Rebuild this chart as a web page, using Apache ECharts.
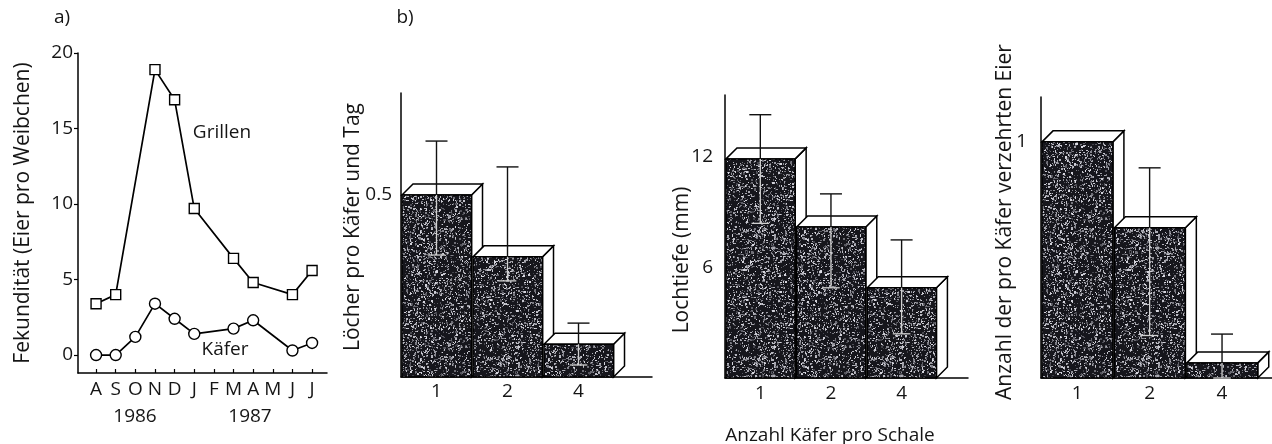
<!DOCTYPE html>
<html>
<head>
<meta charset="utf-8">
<script src="https://cdn.jsdelivr.net/npm/echarts@6/dist/echarts.min.js"></script>
<style>
html,body{margin:0;padding:0;background:#fff;}
#chart{width:1272px;height:444px;}
</style>
</head>
<body>
<div id="chart"></div>
<script>
// ---------- data ----------
const months = ['A','S','O','N','D','J','F','M','A','M','J','J'];
const grillen = [3.4, 4.0, null, 18.9, 16.9, 9.7, null, 6.4, 4.8, null, 4.0, 5.6];
const kaefer  = [0, 0, 1.2, 3.4, 2.4, 1.4, null, 1.75, 2.3, null, 0.3, 0.8];
const yTicksA = [0, 5, 10, 15, 20];

const beetleCats = ['1', '2', '4'];
// b1: Löcher pro Käfer und Tag
const holes    = [0.50, 0.33, 0.09];
const holesLo  = [0.335, 0.264, 0.033];
const holesHi  = [0.648, 0.577, 0.148];
const holesTicks = [0.5];
// b2: Lochtiefe (mm)
const depth    = [11.9, 8.2, 4.9];
const depthLo  = [8.4, 4.9, 2.4];
const depthHi  = [14.3, 10.0, 7.5];
const depthTicks = [6, 12];
// b3: Anzahl der pro Käfer verzehrten Eier
const eggs     = [1.0, 0.636, 0.064];
const eggsLo   = [null, 0.18, 0.0];
const eggsHi   = [null, 0.89, 0.186];
const eggsTicks = [1];

// ---------- texture (style only) ----------
function makeTexture() {
  const N = 128;
  const c = document.createElement('canvas');
  c.width = N; c.height = N;
  const ctx = c.getContext('2d');
  ctx.fillStyle = '#16161c';
  ctx.fillRect(0, 0, N, N);
  let s = 12345;
  const rnd = () => { s = (s * 1103515245 + 12345) & 0x7fffffff; return s / 0x7fffffff; };
  for (let i = 0; i < 3200; i++) {
    const x = Math.floor(rnd() * N), y = Math.floor(rnd() * N);
    const g = Math.floor(60 + rnd() * 160);
    const w = rnd() < 0.3 ? 2 : 1, h = rnd() < 0.3 ? 2 : 1;
    ctx.fillStyle = 'rgb(' + g + ',' + g + ',' + (g + 8) + ')';
    ctx.fillRect(x, y, w, h);
  }
  return c;
}
const texture = makeTexture();
const FONT = '"Open Sans", "Noto Sans", sans-serif';
const INK = '#151515';
const FS = 19;

function series3D(i, vals) {
  return {
    type: 'custom', xAxisIndex: i, yAxisIndex: i, clip: false, z: 2,
    data: vals.map((v, k) => [k + 0.5, v]),
    renderItem: function (params, api) {
      const x = api.value(0), v = api.value(1);
      const pTL = api.coord([x - 0.5, v]);
      const pBR = api.coord([x + 0.5, 0]);
      const x0 = pTL[0] + 1, x1 = pBR[0] - 0.5, yT = pTL[1], yB = pBR[1];
      const d = 11;
      const ls = { stroke: '#000', lineWidth: 1.5, fill: '#fff' };
      return {
        type: 'group', children: [
          { type: 'polygon', shape: { points: [[x1, yT], [x1 + d, yT - d], [x1 + d, yB - d], [x1, yB]] }, style: ls },
          { type: 'polygon', shape: { points: [[x0, yT], [x0 + d, yT - d], [x1 + d, yT - d], [x1, yT]] }, style: ls },
          { type: 'rect', shape: { x: x0, y: yT, width: x1 - x0, height: yB - yT },
            style: { fill: { image: texture, repeat: 'repeat' }, stroke: '#000', lineWidth: 1.5 } }
        ]
      };
    }
  };
}

function seriesErr(i, vals, lo, hi) {
  return {
    type: 'custom', xAxisIndex: i, yAxisIndex: i, clip: false, z: 5,
    data: vals.map((v, k) => [k + 0.5, v, lo[k] == null ? NaN : lo[k], hi[k] == null ? NaN : hi[k]]),
    renderItem: function (params, api) {
      const x = api.value(0), v = api.value(1), l = api.value(2), h = api.value(3);
      if (isNaN(l) || isNaN(h)) return null;
      const px = api.coord([x, v])[0];
      const yBar = api.coord([x, v])[1];
      const yH = api.coord([x, h])[1];
      const yL = api.coord([x, l])[1];
      const cw = 11;
      const dark = { stroke: '#111', lineWidth: 1.4 };
      const light = { stroke: '#d0d0d0', lineWidth: 1.3 };
      const ch = [];
      const upEnd = Math.min(yBar, yL);
      if (yH < upEnd) ch.push({ type: 'line', shape: { x1: px, y1: yH, x2: px, y2: upEnd }, style: dark });
      ch.push({ type: 'line', shape: { x1: px - cw, y1: yH, x2: px + cw, y2: yH }, style: yH <= yBar ? dark : light });
      const inStart = Math.max(yBar, yH);
      if (yL > inStart) ch.push({ type: 'line', shape: { x1: px, y1: inStart, x2: px, y2: yL }, style: light });
      ch.push({ type: 'line', shape: { x1: px - cw * 0.8, y1: yL, x2: px + cw * 0.8, y2: yL }, style: yL <= yBar ? dark : light });
      return { type: 'group', children: ch };
    }
  };
}

const axisLineStyle = { color: '#000', width: 1.5 };
const labelStyle = { color: INK, fontFamily: FONT, fontSize: FS };

function catXAxis(i, maxV, margin) {
  return {
    type: 'value', gridIndex: i, min: 0, max: maxV,
    axisLine: { show: true, onZero: false, lineStyle: axisLineStyle },
    axisTick: { show: false },
    splitLine: { show: false },
    axisLabel: Object.assign({}, labelStyle, {
      margin: margin,
      customValues: beetleCats.map((c, k) => k + 0.5),
      formatter: v => beetleCats[Math.round(v - 0.5)]
    })
  };
}
function valYAxis(i, maxV, ticks, margin) {
  return {
    type: 'value', gridIndex: i, min: 0, max: maxV,
    axisLine: { show: true, onZero: false, lineStyle: axisLineStyle },
    axisTick: { show: false },
    splitLine: { show: false },
    axisLabel: Object.assign({}, labelStyle, { margin: margin, customValues: ticks,
      formatter: v => String(v) })
  };
}

const chart = echarts.init(document.getElementById('chart'), null, { renderer: 'canvas' });

function txt(x, y, s, size, rot) {
  return { type: 'text', x: x, y: y, rotation: rot || 0,
    style: { text: s, font: size + 'px ' + FONT, fill: INK, align: 'center', verticalAlign: 'middle' } };
}

const option = {
  backgroundColor: '#fff',
  animation: false,
  textStyle: { fontFamily: FONT },
  grid: [
    { left: 78, top: 53, width: 249, height: 320 },
    { left: 401, top: 93, width: 251, height: 284 },
    { left: 725, top: 95, width: 243, height: 283 },
    { left: 1041, top: 97, width: 231, height: 281 }
  ],
  xAxis: [
    {
      type: 'value', gridIndex: 0, min: -0.92, max: 11.76,
      axisLine: { show: true, onZero: false, lineStyle: axisLineStyle },
      axisTick: { show: true, inside: true, length: 4, lineStyle: { color: '#000', width: 1.2 },
        customValues: months.map((m, k) => k) },
      splitLine: { show: false },
      axisLabel: Object.assign({}, labelStyle, { margin: 7,
        customValues: months.map((m, k) => k), formatter: v => months[v] })
    },
    catXAxis(1, 3.535, 5),
    catXAxis(2, 3.44, 6),
    catXAxis(3, 3.19, 6)
  ],
  yAxis: [
    {
      type: 'value', gridIndex: 0, min: -1.19, max: 20,
      axisLine: { show: true, onZero: false, lineStyle: axisLineStyle },
      axisTick: { show: true, length: 4, lineStyle: { color: '#000', width: 1.2 }, customValues: yTicksA },
      splitLine: { show: false },
      axisLabel: Object.assign({}, labelStyle, { margin: 5, customValues: yTicksA })
    },
    valYAxis(1, 0.78, holesTicks, 9),
    valYAxis(2, 15.37, depthTicks, 12),
    valYAxis(3, 1.19, eggsTicks, 14)
  ],
  series: [
    {
      type: 'line', xAxisIndex: 0, yAxisIndex: 0, name: 'Grillen',
      data: grillen.map((v, k) => v == null ? null : [k, v]).filter(p => p),
      symbol: 'rect', symbolSize: 10,
      lineStyle: { color: '#000', width: 1.7 },
      itemStyle: { color: '#fff', borderColor: '#000', borderWidth: 1.4 },
      z: 3
    },
    {
      type: 'line', xAxisIndex: 0, yAxisIndex: 0, name: 'Käfer',
      data: kaefer.map((v, k) => v == null ? null : [k, v]).filter(p => p),
      symbol: 'circle', symbolSize: 11,
      lineStyle: { color: '#000', width: 1.7 },
      itemStyle: { color: '#fff', borderColor: '#000', borderWidth: 1.4 },
      z: 3
    },
    series3D(1, holes), seriesErr(1, holes, holesLo, holesHi),
    series3D(2, depth), seriesErr(2, depth, depthLo, depthHi),
    series3D(3, eggs), seriesErr(3, eggs, eggsLo, eggsHi)
  ],
  graphic: [
    txt(62, 18, 'a)', FS),
    txt(405, 18, 'b)', FS),
    txt(222, 133, 'Grillen', FS),
    txt(225, 350, 'Käfer', FS),
    txt(135, 417, '1986', FS),
    txt(250, 417, '1987', FS),
    txt(830, 436, 'Anzahl Käfer pro Schale', FS),
    txt(23, 213, 'Fekundität (Eier pro Weibchen)', 21, Math.PI / 2),
    txt(353, 227, 'Löcher pro Käfer und Tag', 21, Math.PI / 2),
    txt(682, 260, 'Lochtiefe (mm)', 21, Math.PI / 2),
    txt(1005, 222, 'Anzahl der pro Käfer verzehrten Eier', 21, Math.PI / 2)
  ]
};
chart.setOption(option);
</script>
</body>
</html>
